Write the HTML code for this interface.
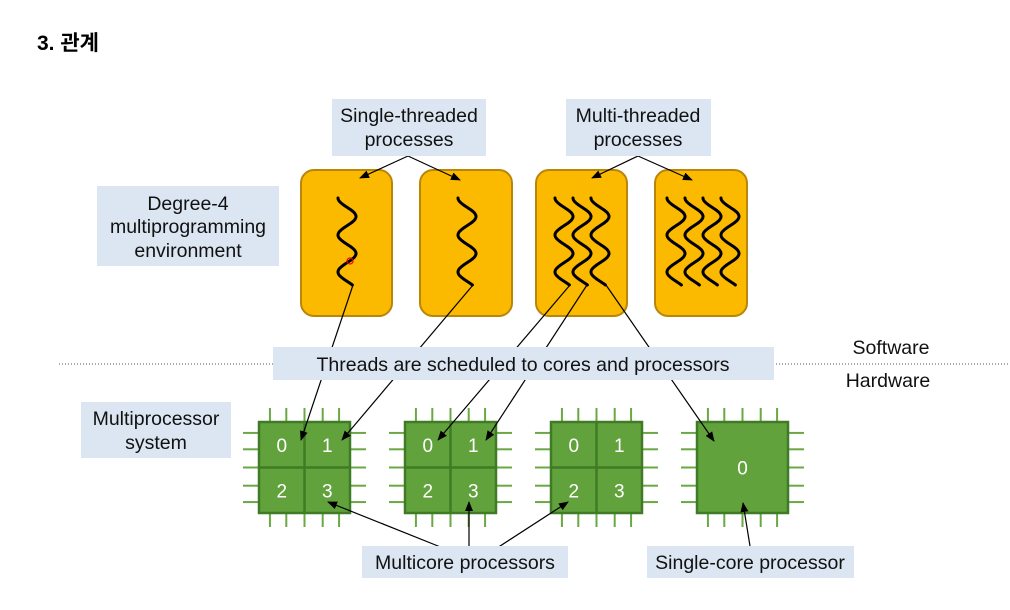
<!DOCTYPE html>
<html><head><meta charset="utf-8"><style>
html,body{margin:0;padding:0;background:#fff;}
svg{display:block;font-family:"Liberation Sans","Noto Sans CJK KR",sans-serif;}
</style></head><body>
<svg id="s" width="1010" height="610" viewBox="0 0 1010 610" xmlns="http://www.w3.org/2000/svg">
<defs><marker id="a" markerWidth="10" markerHeight="8" refX="9" refY="4" orient="auto" markerUnits="userSpaceOnUse"><path d="M0,0 L10,4 L0,8 z" fill="#000"/></marker></defs>
<text x="37" y="50" font-size="21" font-weight="bold" font-family="Liberation Sans,Noto Sans CJK KR,sans-serif">3. 관계</text>
<line x1="59" y1="364" x2="1010" y2="364" stroke="#555" stroke-dasharray="1,2"/>
<g fill="#fbb900" stroke="#b8860b" stroke-width="2">
<rect x="301" y="170" width="91" height="146" rx="13"/>
<rect x="420" y="170" width="92" height="146" rx="13"/>
<rect x="536" y="170" width="91" height="146" rx="13"/>
<rect x="655" y="170" width="92" height="146" rx="13"/>
</g>
<g id="sq" fill="none" stroke="#000" stroke-width="3" stroke-linecap="round"></g>
<g id="chips"></g>
<g stroke="#000" stroke-width="1.2" fill="none" marker-end="url(#a)">
<line x1="408" y1="156" x2="360" y2="178"/>
<line x1="408" y1="156" x2="460" y2="180"/>
<line x1="638" y1="156" x2="592" y2="178"/>
<line x1="638" y1="156" x2="692" y2="180"/>
<line x1="353" y1="285" x2="301" y2="440"/>
<line x1="473" y1="285" x2="342" y2="440"/>
<line x1="570" y1="285" x2="438" y2="440"/>
<line x1="587" y1="285" x2="486" y2="440"/>
<line x1="606" y1="285" x2="714" y2="441"/>
<line x1="443" y1="548" x2="328" y2="502"/>
<line x1="469" y1="546" x2="469" y2="502"/>
<line x1="497" y1="548" x2="568" y2="502"/>
<line x1="750" y1="546" x2="743" y2="503"/>
</g>
<g fill="#dce6f2">
<rect x="332" y="99" width="154" height="57"/>
<rect x="566" y="99" width="145" height="57"/>
<rect x="97" y="186" width="182" height="80"/>
<rect x="273" y="347" width="501" height="33"/>
<rect x="81" y="402" width="150" height="56"/>
<rect x="362" y="546" width="206" height="32"/>
<rect x="647" y="546" width="207" height="32"/>
</g>
<g font-size="19.5" text-anchor="middle" fill="#111">
<text x="409" y="122">Single-threaded</text><text x="409" y="146">processes</text>
<text x="638" y="122">Multi-threaded</text><text x="638" y="146">processes</text>
<text x="188" y="210">Degree-4</text><text x="188" y="233">multiprogramming</text><text x="188" y="257">environment</text>
<text x="523" y="371">Threads are scheduled to cores and processors</text>
<text x="156" y="425">Multiprocessor</text><text x="156" y="449">system</text>
<text x="465" y="569">Multicore processors</text>
<text x="750" y="569">Single-core processor</text>
<text x="891" y="354">Software</text>
<text x="888" y="387">Hardware</text>
</g>
<circle cx="350" cy="261" r="3" fill="none" stroke="#e00" stroke-width="1.2"/>
</svg>
<script>
var ns="http://www.w3.org/2000/svg";
function el(p,t,a,txt){var e=document.createElementNS(ns,t);for(var k in a)e.setAttribute(k,a[k]);if(txt!==undefined)e.textContent=txt;p.appendChild(e);return e;}
var sq=document.getElementById('sq');
function wave(x){var d="";for(var i=0;i<=87;i++){var y=198+i;var xx=x+9-9*Math.cos((i/37)*2*Math.PI);d+=(i?"L":"M")+xx.toFixed(1)+","+y;}el(sq,'path',{d:d});}
[338,458].forEach(wave);
[555,573,591].forEach(wave);
[667,685,703,721].forEach(wave);
var ch=document.getElementById('chips');
function chip(x,single){
 var y=422,w=91,g=el(ch,'g',{});
 var offs=[0.12,0.3,0.5,0.7,0.88];
 offs.forEach(function(o){var px=x+o*w;el(g,'line',{x1:px,y1:y-14,x2:px,y2:y,stroke:'#6aa844','stroke-width':2});el(g,'line',{x1:px,y1:y+w,x2:px,y2:y+w+14,stroke:'#6aa844','stroke-width':2});
 var py=y+o*w;el(g,'line',{x1:x-16,y1:py,x2:x,y2:py,stroke:'#6aa844','stroke-width':2});el(g,'line',{x1:x+w,y1:py,x2:x+w+16,y2:py,stroke:'#6aa844','stroke-width':2});});
 el(g,'rect',{x:x,y:y,width:w,height:w,fill:'#62a23c',stroke:'#3f7a24','stroke-width':2.5});
 if(single){el(g,'text',{x:x+w/2,y:y+w/2+7,'font-size':19,fill:'#fff','text-anchor':'middle'},'0');return;}
 el(g,'line',{x1:x+w/2,y1:y,x2:x+w/2,y2:y+w,stroke:'#3f7a24','stroke-width':2.5});
 el(g,'line',{x1:x,y1:y+w/2,x2:x+w,y2:y+w/2,stroke:'#3f7a24','stroke-width':2.5});
 [[0,0,'0'],[1,0,'1'],[0,1,'2'],[1,1,'3']].forEach(function(c){el(g,'text',{x:x+w/4+c[0]*w/2,y:y+w/4+c[1]*w/2+7,'font-size':19,fill:'#fff','text-anchor':'middle'},c[2]);});
}
chip(259);chip(405);chip(551);chip(697,true);
</script>
</body></html>
